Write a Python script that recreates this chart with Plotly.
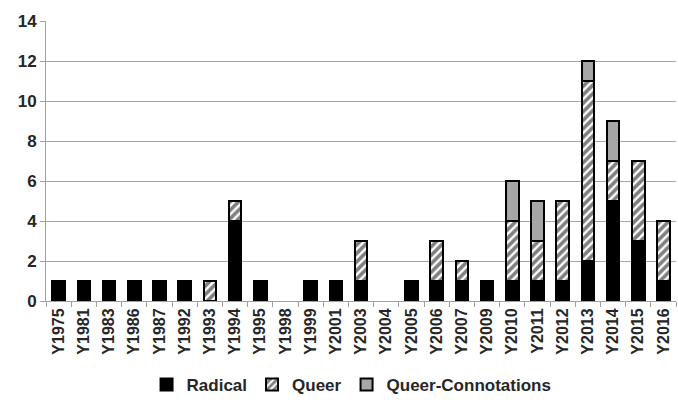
import plotly.graph_objects as go

years = ["Y1975", "Y1981", "Y1983", "Y1986", "Y1987", "Y1992", "Y1993", "Y1994",
         "Y1995", "Y1998", "Y1999", "Y2001", "Y2003", "Y2004", "Y2005", "Y2006",
         "Y2007", "Y2009", "Y2010", "Y2011", "Y2012", "Y2013", "Y2014", "Y2015", "Y2016"]
radical = [1, 1, 1, 1, 1, 1, 0, 4, 1, 0, 1, 1, 1, 0, 1, 1, 1, 1, 1, 1, 1, 2, 5, 3, 1]
queer = [0, 0, 0, 0, 0, 0, 1, 1, 0, 0, 0, 0, 2, 0, 0, 2, 1, 0, 3, 2, 4, 9, 2, 4, 3]
queer_conn = [0, 0, 0, 0, 0, 0, 0, 0, 0, 0, 0, 0, 0, 0, 0, 0, 0, 0, 2, 2, 0, 1, 2, 0, 0]


def nz(values):
    # empty segments are left out so they draw no outline
    return [v if v else None for v in values]


font_main = "Liberation Sans"
line = dict(color="black", width=2)

fig = go.Figure()
fig.add_trace(go.Bar(x=years, y=nz(radical), name="Radical",
                     marker=dict(color="black", line=line)))
fig.add_trace(go.Bar(x=years, y=nz(queer), name="Queer",
                     marker=dict(color="white", line=line,
                                 pattern=dict(shape="/", fgcolor="black", bgcolor="white",
                                              size=6, solidity=0.6))))
fig.add_trace(go.Bar(x=years, y=nz(queer_conn), name="Queer-Connotations",
                     marker=dict(color="#a6a6a6", line=line)))

fig.update_layout(
    barmode="stack",
    bargap=0.5,
    width=678, height=403,
    margin=dict(l=46, r=2, t=21, b=102, autoexpand=False),
    plot_bgcolor="white", paper_bgcolor="white",
    font=dict(family=font_main, color="#262626"),
    legend=dict(orientation="h", x=0.485, xanchor="center", y=-0.3, yanchor="middle",
                font=dict(size=17, family=font_main, weight="bold"),
                itemwidth=30, traceorder="normal"),
    xaxis=dict(type="category", tickangle=-90, tickson="boundaries", automargin=False,
               ticks="outside", ticklen=5, tickcolor="#a0a0a0",
               showline=True, linecolor="#a0a0a0", linewidth=1,
               tickfont=dict(size=16, family=font_main, weight="bold", color="#262626"),
               showgrid=False),
    yaxis=dict(range=[0, 14], dtick=2, showgrid=True, gridcolor="#a6a6a6", gridwidth=1,
               showline=True, linecolor="#a0a0a0", linewidth=1, automargin=False,
               ticks="outside", ticklen=5, tickcolor="#a0a0a0",
               tickfont=dict(size=17, family=font_main, weight="bold", color="#262626"),
               zeroline=False),
)

fig.write_html("out.html")
